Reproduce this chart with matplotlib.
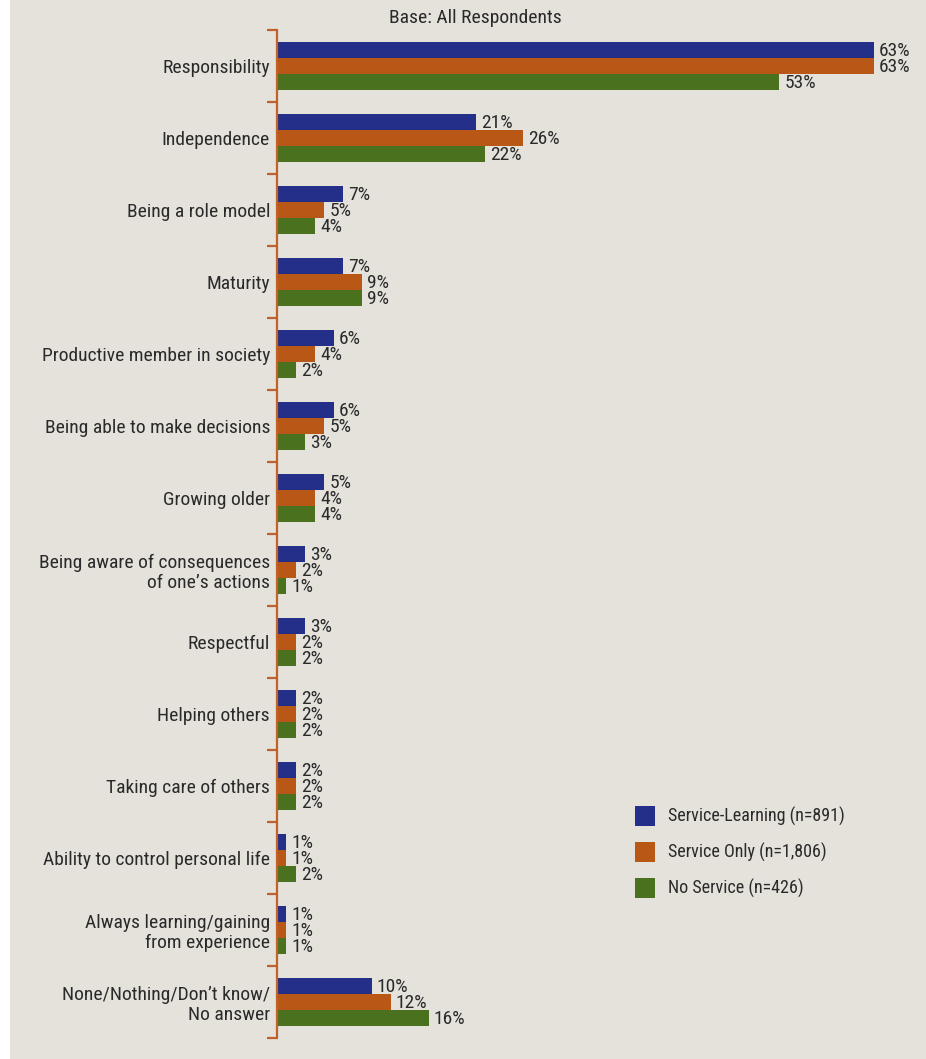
import matplotlib
matplotlib.use("Agg")
import matplotlib.pyplot as plt
from matplotlib.patches import Rectangle
from matplotlib import font_manager

categories = [
    "Responsibility",
    "Independence",
    "Being a role model",
    "Maturity",
    "Productive member in society",
    "Being able to make decisions",
    "Growing older",
    "Being aware of consequences\nof one\u2019s actions",
    "Respectful",
    "Helping others",
    "Taking care of others",
    "Ability to control personal life",
    "Always learning/gaining\nfrom experience",
    "None/Nothing/Don\u2019t know/\nNo answer",
]
service_learning = [63, 21, 7, 7, 6, 6, 5, 3, 3, 2, 2, 1, 1, 10]
service_only = [63, 26, 5, 9, 4, 5, 4, 2, 2, 2, 2, 1, 1, 12]
no_service = [53, 22, 4, 9, 2, 3, 4, 1, 2, 2, 2, 2, 1, 16]
series_names = ["Service-Learning (n=891)", "Service Only (n=1,806)", "No Service (n=426)"]

colors = ["#232f88", "#b95816", "#4a711e"]
bg = "#e5e2dc"
axis_color = "#c0602a"
text_color = "#2a2a2a"

available = {f.name for f in font_manager.fontManager.ttflist}
family = [f for f in ["Liberation Sans Narrow", "Roboto Condensed", "Liberation Sans", "DejaVu Sans"] if f in available]
plt.rcParams["font.family"] = family

W, H = 926, 1059
fig = plt.figure(figsize=(W / 100, H / 100), dpi=100, facecolor="white")
fig.patches.append(Rectangle((10 / W, 0), 1 - 10 / W, 1, transform=fig.transFigure,
                             facecolor=bg, edgecolor="none", zorder=-10))

left_px, right_px, top_px, bot_px = 277, 921, 30, 1038
ax = fig.add_axes([left_px / W, (H - bot_px) / H, (right_px - left_px) / W, (bot_px - top_px) / H])
ax.set_facecolor("none")

n = len(categories)
bh = 0.222
series = [service_learning, service_only, no_service]
for k, (vals, c) in enumerate(zip(series, colors)):
    ys = [i + (k - 1) * bh for i in range(n)]
    ax.barh(ys, vals, height=bh, color=c, edgecolor="none", label=series_names[k])
    for y, v in zip(ys, vals):
        ax.text(v + 0.55, y + 0.02, f"{v}%", va="center", ha="left", fontsize=14, color=text_color)

ax.set_xlim(0, 68)
ax.set_ylim(n - 0.5, -0.5)

for s in ["top", "right", "bottom"]:
    ax.spines[s].set_visible(False)
ax.spines["left"].set_color(axis_color)
ax.spines["left"].set_linewidth(1.6)
ax.set_xticks([])
ax.set_yticks(range(n))
ax.set_yticklabels(categories, fontsize=14, color=text_color, linespacing=1.15)
ax.tick_params(axis="y", which="major", length=0, pad=5)
ax.set_yticks([i - 0.5 for i in range(n + 1)], minor=True)
ax.tick_params(axis="y", which="minor", length=7, width=1.6, color=axis_color)

fig.text(475 / W, 1 - 18 / H, "Base: All Respondents", ha="center", va="center",
         fontsize=14, color=text_color)

# legend drawn as squares with labels
for k, (name, c) in enumerate(zip(series_names, colors)):
    yc = 816 + 36 * k
    fig.patches.append(Rectangle((635 / W, 1 - (yc + 10) / H), 20 / W, 20 / H,
                                 transform=fig.transFigure, facecolor=c, edgecolor="none"))
    fig.text(668 / W, 1 - yc / H, name, ha="left", va="center", fontsize=13, color=text_color)

fig.savefig("out.png", dpi=100, facecolor=fig.get_facecolor())
